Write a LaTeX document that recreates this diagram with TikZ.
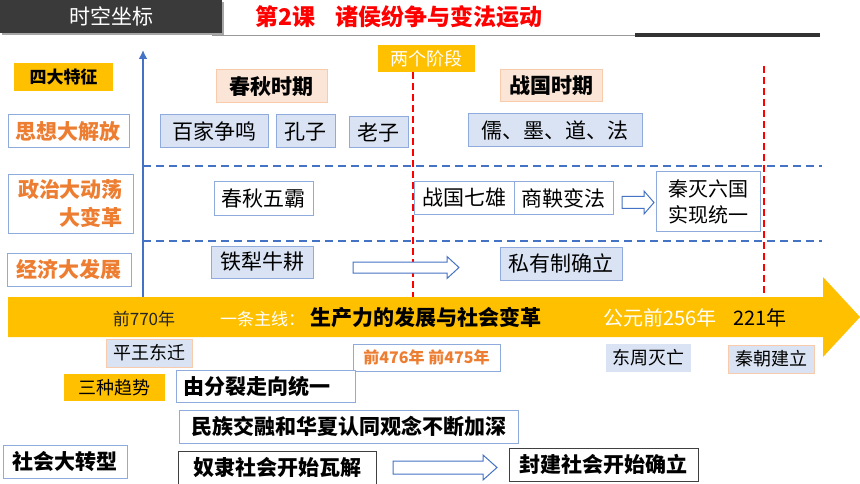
\documentclass[tikz,border=0pt]{standalone}
\usepackage{fontspec}
\setmainfont{Noto Sans CJK SC}
\usetikzlibrary{arrows.meta}
\definecolor{hdr}{HTML}{3A3A3A}
\definecolor{titlered}{HTML}{FF0000}
\definecolor{gold}{HTML}{FFC000}
\definecolor{axisblue}{HTML}{4472C4}
\definecolor{bfill}{HTML}{DAE3F3}
\definecolor{bbord}{HTML}{8FAADC}
\definecolor{pfill}{HTML}{FBE5D6}
\definecolor{pbord}{HTML}{F8CBAD}
\definecolor{orangetxt}{HTML}{ED7D31}
\definecolor{darkbord}{HTML}{404040}
\definecolor{redline}{HTML}{FF0000}
\newcommand\fsz[2]{\fontsize{#1}{#2}\selectfont}
\newcommand\harrow[6]{%
  \draw[hollowarr] (#1,#3-#4) -- (#2-#6,#3-#4) -- (#2-#6,#3-#5) -- (#2,#3) -- (#2-#6,#3+#5) -- (#2-#6,#3+#4) -- (#1,#3+#4) -- cycle;}
\begin{document}
\begin{tikzpicture}[x=1pt,y=-1pt,
  box/.style={line width=1pt, inner sep=0pt, font=\fsz{21}{26}},
  bluebox/.style={box, draw=bbord, fill=bfill},
  whitebox/.style={box, draw=bbord, fill=white},
  peachbox/.style={box, draw=pbord, fill=pfill, font=\fsz{21}{26}\bfseries},
  goldbox/.style={box, fill=gold},
  darkbox/.style={box, draw=darkbord, fill=white, font=\fsz{21}{26}\bfseries},
  catbox/.style={whitebox, text=orangetxt, font=\fsz{21}{28}\bfseries},
  trendbox/.style={whitebox, font=\fsz{21}{26}\bfseries},
  hollowarr/.style={draw=axisblue, line width=1pt, fill=white},
  bdash/.style={draw=axisblue, line width=2pt, dash pattern=on 8pt off 5pt},
  rdash/.style={draw=redline, line width=2pt, dash pattern=on 7pt off 4pt},
  tl/.style={inner sep=0pt}
]
\useasboundingbox (0,0) rectangle (860,484);
\fill[white] (0,0) rectangle (860,484);

% header
\fill[black!35] (2,2) rectangle (224,35);
\node[box, fill=hdr, text=white, minimum width=222pt, minimum height=33pt] (hdr) at (111,16.5) {时空坐标};
\draw[black!40, line width=0.8pt] (212,35) -- (820,35);
\draw[black!80, line width=4pt] (635,35.5) -- (820,35.5);
\node[tl, anchor=west, text=titlered, font=\fsz{23}{26}\bfseries] (title) at (255,17) {第2课\hspace{0.9em}诸侯纷争与变法运动};

% axis
\coordinate (axisbot) at (143,297);
\coordinate (axistop) at (143,50);
\draw[axisblue, line width=2.5pt, -{Latex[length=9pt,width=9pt]}] (axisbot) -- (axistop);

% horizontal dashed separators
\coordinate (h1a) at (143,166); \coordinate (h1b) at (822,166);
\coordinate (h2a) at (143,241); \coordinate (h2b) at (822,241);
\draw[bdash] (h1a) -- (h1b);
\draw[bdash] (h2a) -- (h2b);

% stages
\node[goldbox, text=white, font=\fsz{18}{22}, minimum width=97pt, minimum height=27pt] (stage) at (426.5,58.5) {两个阶段};
\coordinate (r1b) at (413,297);
\draw[rdash] (413,72) -- (r1b);
\coordinate (r2t) at (764,66); \coordinate (r2b) at (764,297);
\draw[rdash] (r2t) -- (r2b);

\node[goldbox, font=\fsz{17}{20}\bfseries, minimum width=99pt, minimum height=28pt] (four) at (63.5,77) {四大特征};
\node[peachbox, minimum width=111pt, minimum height=33pt] (cq) at (271.5,86.5) {春秋时期};
\node[peachbox, minimum width=102pt, minimum height=32pt] (zg) at (551,86) {战国时期};

% row 1
\node[catbox, minimum width=121pt, minimum height=33pt] (sx) at (68.5,131.5) {思想大解放};
\node[bluebox, minimum width=108pt, minimum height=33pt] (bj) at (214,131.5) {百家争鸣};
\node[bluebox, minimum width=59pt, minimum height=33pt] (kz) at (305.5,131.5) {孔子};
\node[bluebox, minimum width=59pt, minimum height=31pt] (lz) at (378.5,132.5) {老子};
\node[bluebox, minimum width=174pt, minimum height=33pt] (rm) at (555,130.5) {儒、墨、道、法};

% row 2
\node[catbox, align=right, minimum width=125pt, minimum height=58pt] (zz) at (70.5,204) {政治大动荡\\大变革};
\node[whitebox, minimum width=99pt, minimum height=33pt] (cqwb) at (263.5,198.5) {春秋五霸};
\node[whitebox, minimum width=100pt, minimum height=32pt] (zgqx) at (464,198) {战国七雄};
\node[whitebox, minimum width=99pt, minimum height=32pt] (sy) at (563.5,198) {商鞅变法};
\harrow{622}{654}{202.5}{6}{11.5}{10}
\node[whitebox, align=left, font=\fsz{20}{26}, minimum width=104pt, minimum height=59pt] (qm) at (708,201.5) {秦灭六国\\实现统一};

% row 3
\node[catbox, minimum width=124pt, minimum height=33pt] (jj) at (69,269.5) {经济大发展};
\node[bluebox, minimum width=102pt, minimum height=32pt] (tl) at (262,262) {铁犁牛耕};
\harrow{353}{459}{267.5}{5.5}{11}{12}
\node[bluebox, minimum width=122pt, minimum height=33pt] (sy2) at (561,263.5) {私有制确立};

% timeline
\fill[gold] (8,297) -- (823,297) -- (823,277) -- (860,317) -- (823,357) -- (823,337) -- (8,337) -- cycle;
\node[tl, text=black!85, font=\fsz{17}{20}] (y770) at (144,319) {前770年};
\node[tl, anchor=west, text=white, font=\fsz{17}{20}] (zx) at (220,319) {一条主线：};
\node[tl, anchor=west, font=\fsz{21}{24}\bfseries] (scl) at (310,318) {生产力的发展与社会变革};
\node[tl, anchor=west, text=white, font=\fsz{20}{22}] (y256) at (603,318) {公元前256年};
\node[tl, anchor=west, font=\fsz{20}{24}] (y221) at (733,318) {221年};

% below timeline
\node[box, draw=pbord, fill=bfill, font=\fsz{18}{22}, minimum width=86pt, minimum height=28pt] (pw) at (149,353) {平王东迁};
\node[whitebox, text=orangetxt, font=\fsz{16}{20}\bfseries, minimum width=147pt, minimum height=27pt] (y476) at (426.5,357.5) {前476年 前475年};
\node[box, fill=bfill, font=\fsz{18}{22}, minimum width=85pt, minimum height=28pt] (dz) at (648.5,358) {东周灭亡};
\node[box, draw=pbord, fill=bfill, font=\fsz{18}{22}, minimum width=86pt, minimum height=28pt] (qc) at (771,359) {秦朝建立};

% trends
\node[goldbox, font=\fsz{18}{22}, minimum width=101pt, minimum height=27pt] (three) at (114.5,387.5) {三种趋势};
\node[trendbox, text width=165pt, inner xsep=7pt, align=left, minimum height=32pt] (tr1) at (265.5,386) {由分裂走向统一};
\node[trendbox, minimum width=339pt, minimum height=33pt] (tr2) at (348.5,426.5) {民族交融和华夏认同观念不断加深};
\node[trendbox, minimum width=124pt, minimum height=33pt] (shzx) at (65,461.5) {社会大转型};
\node[darkbox, minimum width=198pt, minimum height=33pt] (nl) at (277,467.5) {奴隶社会开始瓦解};
\harrow{393}{497}{467.5}{6.5}{12.5}{14}
\node[darkbox, minimum width=189pt, minimum height=33pt] (fj) at (603.5,464.5) {封建社会开始确立};
\end{tikzpicture}
\end{document}
